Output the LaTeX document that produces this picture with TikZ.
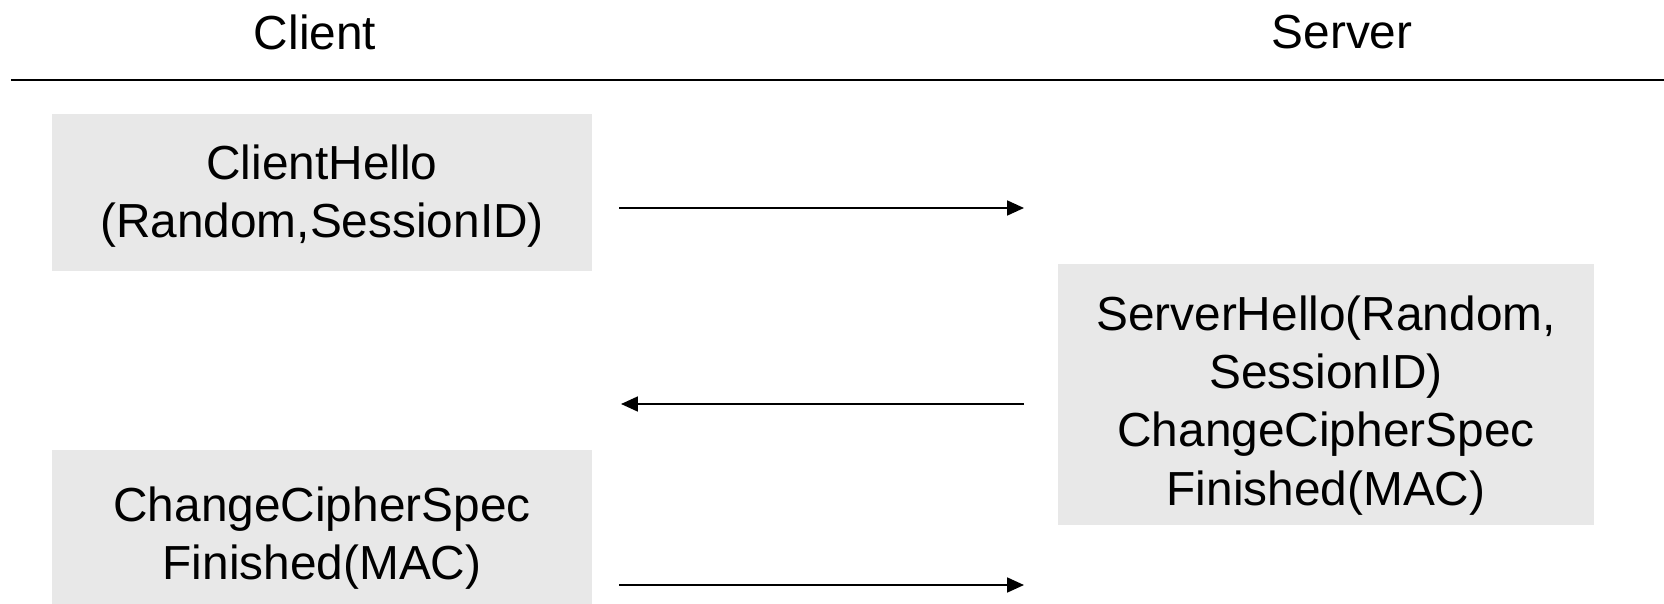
\documentclass[tikz,border=0pt]{standalone}
\usepackage{fontspec}
\setmainfont{Liberation Sans}
\usetikzlibrary{arrows.meta}
\definecolor{msggray}{RGB}{232,232,232}
\tikzset{
    party/.style={font=\fontsize{34}{41}\selectfont, inner sep=0pt},
    msgbox/.style={fill=msggray, inner sep=0pt},
    msgtext/.style={align=center, inner sep=0pt, font=\fontsize{34}{41.5}\selectfont},
    msg/.style={line width=1.4pt, -{Triangle[length=0.42cm,width=0.37cm]}},
}
\begin{document}
\begin{tikzpicture}[scale=1]
    \useasboundingbox (0,0) rectangle (41.6,-15.1);

    % Header
    \node[party] (client) at (7.875,-0.8) {Client};
    \node[party] (server) at (33.55,-0.8) {Server};
    \coordinate (hl) at (0.275,-2); \coordinate (hr) at (41.6,-2);
    \draw[line width=1.4pt] (hl) -- (hr);

    % Messages
    \node[msgbox, minimum width=13.5cm, minimum height=3.925cm] (chello) at (8.05,-4.81) {};
    \node[msgtext] (chellotxt) at ([yshift=-0.1cm]chello.center) {ClientHello\\(Random,SessionID)};
    \node[msgbox, minimum width=13.4cm, minimum height=6.525cm] (shello) at (33.15,-9.86) {};
    \node[msgtext] (shellotxt) at ([yshift=-0.27cm]shello.center) {ServerHello(Random,\\SessionID)\\ChangeCipherSpec\\Finished(MAC)};
    \node[msgbox, minimum width=13.5cm, minimum height=3.85cm] (cfin) at (8.05,-13.175) {};
    \node[msgtext] (cfintxt) at ([yshift=-0.27cm]cfin.center) {ChangeCipherSpec\\Finished(MAC)};

    % Arrows
    \coordinate (a1) at (15.475,-5.2); \coordinate (b1) at (25.6,-5.2);
    \coordinate (a2) at (25.6,-10.1); \coordinate (b2) at (15.525,-10.1);
    \coordinate (a3) at (15.475,-14.625); \coordinate (b3) at (25.6,-14.625);
    \draw[msg] (a1) -- (b1);
    \draw[msg] (a2) -- (b2);
    \draw[msg] (a3) -- (b3);
\end{tikzpicture}
\end{document}
